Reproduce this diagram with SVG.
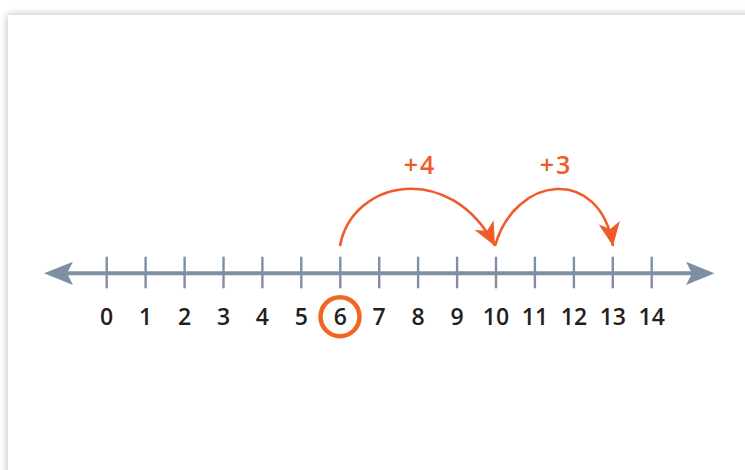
<svg xmlns="http://www.w3.org/2000/svg" width="745" height="470" viewBox="0 0 745 470">
<defs>
<filter id="sh" x="-5%" y="-5%" width="110%" height="110%">
<feGaussianBlur in="SourceAlpha" stdDeviation="4"/>
<feOffset dx="0" dy="0"/>
<feComponentTransfer><feFuncA type="linear" slope="0.3"/></feComponentTransfer>
<feMerge><feMergeNode/><feMergeNode in="SourceGraphic"/></feMerge>
</filter>
<marker id="oa" markerUnits="userSpaceOnUse" markerWidth="30" markerHeight="30" viewBox="-24 -12 28 24" refX="0" refY="0" orient="auto">
<path d="M0,0 L-22,-10 L-16,0 L-22,10 Z" fill="#f15a2b"/>
</marker>
</defs>
<style>
.tick{stroke:#7e8fa3;stroke-width:2.4}
.num{font-family:"Open Sans","DejaVu Sans",sans-serif;font-weight:600;font-size:23px;fill:#231f20;text-anchor:middle}
.lbl{font-family:"Open Sans","DejaVu Sans",sans-serif;font-weight:600;font-size:25px;letter-spacing:2px;fill:#f15a2b;text-anchor:middle}
.jump{fill:none;stroke:#f15a2b;stroke-width:2.6}
</style>
<rect width="745" height="470" fill="#ffffff"/>
<rect x="8" y="15" width="760" height="480" fill="#ffffff" filter="url(#sh)"/>
<g id="numberline">
<line x1="62" y1="273.3" x2="696" y2="273.3" stroke="#7e8fa3" stroke-width="4"/>
<path d="M44,273.3 L73,261.7 L67,273.3 L73,285 Z" fill="#7e8fa3"/>
<path d="M714.5,273.3 L686,261.7 L692,273.3 L686,285 Z" fill="#7e8fa3"/>
<g id="ticks">
<line class="tick" x1="106.7" y1="256.7" x2="106.7" y2="288.3"/>
<line class="tick" x1="145.6" y1="256.7" x2="145.6" y2="288.3"/>
<line class="tick" x1="184.6" y1="256.7" x2="184.6" y2="288.3"/>
<line class="tick" x1="223.5" y1="256.7" x2="223.5" y2="288.3"/>
<line class="tick" x1="262.4" y1="256.7" x2="262.4" y2="288.3"/>
<line class="tick" x1="301.3" y1="256.7" x2="301.3" y2="288.3"/>
<line class="tick" x1="340.3" y1="256.7" x2="340.3" y2="288.3"/>
<line class="tick" x1="379.2" y1="256.7" x2="379.2" y2="288.3"/>
<line class="tick" x1="418.1" y1="256.7" x2="418.1" y2="288.3"/>
<line class="tick" x1="457.1" y1="256.7" x2="457.1" y2="288.3"/>
<line class="tick" x1="496" y1="256.7" x2="496" y2="288.3"/>
<line class="tick" x1="534.9" y1="256.7" x2="534.9" y2="288.3"/>
<line class="tick" x1="573.9" y1="256.7" x2="573.9" y2="288.3"/>
<line class="tick" x1="612.8" y1="256.7" x2="612.8" y2="288.3"/>
<line class="tick" x1="651.7" y1="256.7" x2="651.7" y2="288.3"/>
</g>
<g id="numbers">
<text class="num" x="106.7" y="325">0</text>
<text class="num" x="145.6" y="325">1</text>
<text class="num" x="184.6" y="325">2</text>
<text class="num" x="223.5" y="325">3</text>
<text class="num" x="262.4" y="325">4</text>
<text class="num" x="301.3" y="325">5</text>
<text class="num" x="340.3" y="325">6</text>
<text class="num" x="379.2" y="325">7</text>
<text class="num" x="418.1" y="325">8</text>
<text class="num" x="457.1" y="325">9</text>
<text class="num" x="496" y="325">10</text>
<text class="num" x="534.9" y="325">11</text>
<text class="num" x="573.9" y="325">12</text>
<text class="num" x="612.8" y="325">13</text>
<text class="num" x="651.7" y="325">14</text>
</g>
</g>
<g id="start-circle">
<circle cx="340" cy="316.7" r="19.5" fill="none" stroke="#f26522" stroke-width="4.5"/>
</g>
<g id="connectors">
<path class="jump" d="M340,246 C352,180 450,160 495,246" marker-end="url(#oa)"/>
<path class="jump" d="M495,246 C515,175 600,165 613,246" marker-end="url(#oa)"/>
</g>
<g id="labels">
<text class="lbl" x="420" y="174">+4</text>
<text class="lbl" x="556" y="174">+3</text>
</g>
</svg>
